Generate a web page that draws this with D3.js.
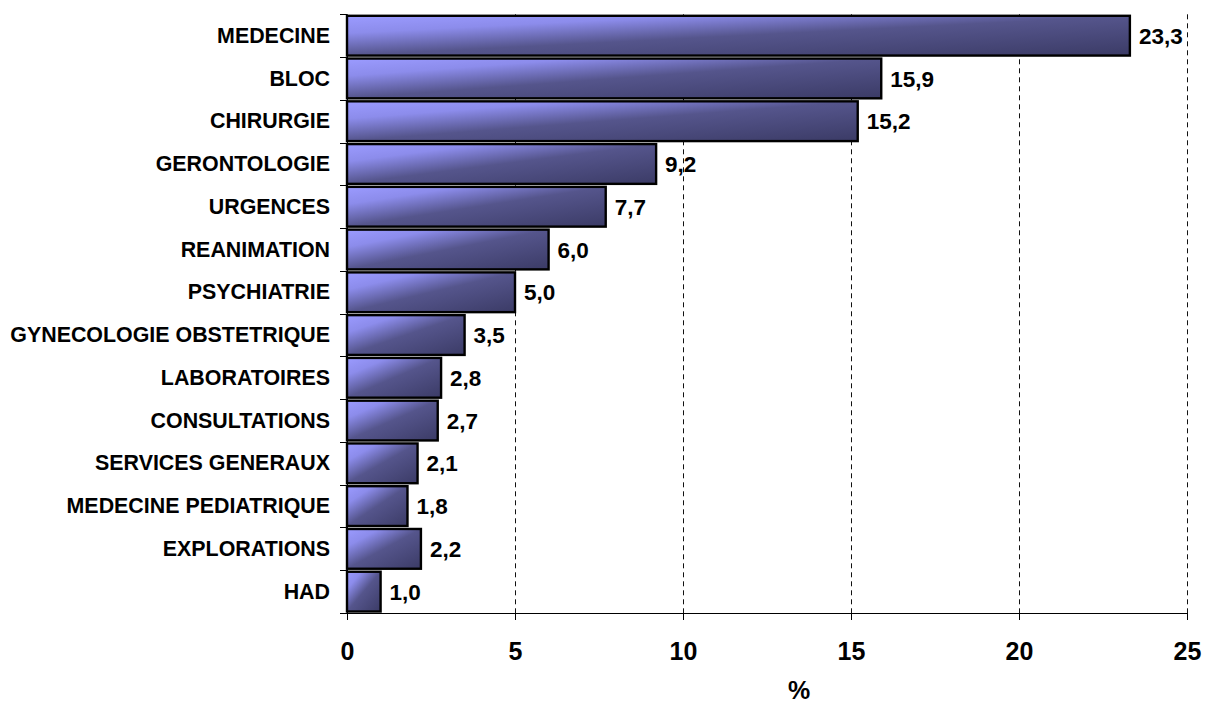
<!DOCTYPE html>
<html>
<head>
<meta charset="utf-8">
<script src="https://cdn.jsdelivr.net/npm/d3@7"></script>
<style>
  html, body { margin: 0; padding: 0; background: #fff; }
  svg { display: block; font-family: Arial, "Liberation Sans", sans-serif; }
</style>
</head>
<body>
<svg id="chart" width="1205" height="705"></svg>
<script>
// Services and their share (%)
const categories = [
  "MEDECINE", "BLOC", "CHIRURGIE", "GERONTOLOGIE", "URGENCES", "REANIMATION",
  "PSYCHIATRIE", "GYNECOLOGIE OBSTETRIQUE", "LABORATOIRES", "CONSULTATIONS",
  "SERVICES GENERAUX", "MEDECINE PEDIATRIQUE", "EXPLORATIONS", "HAD"
];
const values = [23.3, 15.9, 15.2, 9.2, 7.7, 6.0, 5.0, 3.5, 2.8, 2.7, 2.1, 1.8, 2.2, 1.0];
const xTicks = [0, 5, 10, 15, 20, 25];
const xTitle = "%";

const svg = d3.select("#chart");
const margin = { left: 347, top: 14.3, right: 18, bottom: 92 };
const W = 1205, H = 705;

const x = d3.scaleLinear().domain([0, 25]).range([margin.left, W - margin.right]);
const y = d3.scaleBand().domain(categories).range([margin.top, H - margin.bottom])
  .paddingInner(0.07).paddingOuter(0.035);
const crisp = v => Math.round(v) + 0.5;

const frNum = v => d3.format(".1f")(v).replace(".", ",");

// Bar fill: diagonal shading from light periwinkle to deep navy
const defs = svg.append("defs");
const grad = defs.append("linearGradient").attr("id", "barFill")
  .attr("x1", 0).attr("y1", 0).attr("x2", 1).attr("y2", 1);
[[0, "#9b9bff"], [0.22, "#8c8ceb"], [0.5, "#55558c"], [1, "#3b3b66"]]
  .forEach(([o, c]) => grad.append("stop").attr("offset", o).attr("stop-color", c));

// Vertical dashed gridlines
svg.append("g").selectAll("line").data(xTicks.filter(d => d > 0)).join("line")
  .attr("x1", d => crisp(x(d))).attr("x2", d => crisp(x(d)))
  .attr("y1", margin.top).attr("y2", H - margin.bottom)
  .attr("stroke", "#111").attr("stroke-width", 1)
  .attr("stroke-dasharray", "5,4");

// Bars
svg.append("g").selectAll("rect").data(categories).join("rect")
  .attr("x", x(0))
  .attr("y", d => y(d))
  .attr("width", (d, i) => x(values[i]) - x(0))
  .attr("height", y.bandwidth())
  .attr("fill", "url(#barFill)")
  .attr("stroke", "#000").attr("stroke-width", 2.4);

// Value labels
svg.append("g").selectAll("text").data(categories).join("text")
  .attr("x", (d, i) => x(values[i]) + 9)
  .attr("y", d => y(d) + y.bandwidth() / 2)
  .attr("dy", "0.36em")
  .attr("font-size", 22.5).attr("font-weight", "bold").attr("fill", "#000")
  .text((d, i) => frNum(values[i]));

// Category axis: boundary ticks between bands
const yAxisG = svg.append("g");
yAxisG.append("line")
  .attr("x1", crisp(x(0))).attr("x2", crisp(x(0)))
  .attr("y1", margin.top).attr("y2", H - margin.bottom)
  .attr("stroke", "#000").attr("stroke-width", 1);
const bounds = d3.range(categories.length + 1).map(i => margin.top + i * (H - margin.bottom - margin.top) / categories.length);
yAxisG.selectAll("line.tick").data(bounds).join("line").attr("class", "tick")
  .attr("x1", x(0) - 7).attr("x2", x(0))
  .attr("y1", d => crisp(d)).attr("y2", d => crisp(d))
  .attr("stroke", "#000").attr("stroke-width", 1);
yAxisG.selectAll("text").data(categories).join("text")
  .attr("x", x(0) - 17)
  .attr("y", d => y(d) + y.bandwidth() / 2)
  .attr("dy", "0.33em")
  .attr("text-anchor", "end")
  .attr("font-size", 21.4).attr("font-weight", "bold").attr("fill", "#000")
  .text(d => d);

// Value axis
const xAxis = d3.axisBottom(x).tickValues(xTicks).tickSize(7).tickPadding(22)
  .tickFormat(d3.format("d"));
const xg = svg.append("g").attr("transform", `translate(0,${Math.round(H - margin.bottom)})`).call(xAxis);
xg.select(".domain").attr("stroke", "#000").attr("stroke-width", 1);
xg.selectAll(".tick line").attr("stroke", "#000");
xg.selectAll(".tick text").attr("font-size", 25).attr("font-weight", "bold")
  .attr("fill", "#000").attr("font-family", "Arial, 'Liberation Sans', sans-serif");

svg.append("text")
  .attr("x", 799).attr("y", 699)
  .attr("text-anchor", "middle")
  .attr("font-size", 25).attr("font-weight", "bold").attr("fill", "#000")
  .text(xTitle);
</script>
</body>
</html>
